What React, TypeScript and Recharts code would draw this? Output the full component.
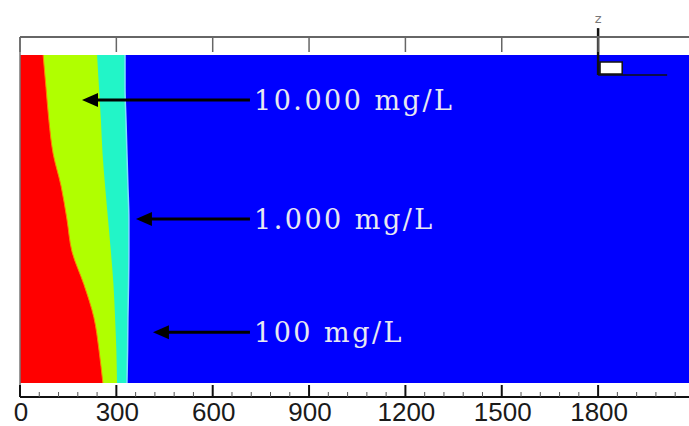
import React from 'react';
import { ComposedChart, Area, XAxis, YAxis, ReferenceLine, ReferenceArea } from 'recharts';

// depth (normalised, 0 = top of the domain, 100 = bottom)
const depths = [0, 10, 20, 30, 40, 50, 60, 70, 80, 90, 100];
// horizontal distance (m) of the contour boundaries at each depth
const redEdge = [72, 81, 90, 103, 128, 146, 162, 199, 230, 246, 258];
const greenEdge = [240, 246, 252, 257, 265, 274, 283, 291, 296, 300, 302];
const cyanEdge = [327, 327, 330, 333, 336, 339, 339, 338, 336, 335, 333];
const X_MAX = 2083;

const labelTicks = [0, 300, 600, 900, 1200, 1500, 1800];
const bottomTicks = [
  0, 60, 120, 180, 240, 300, 360, 420, 480, 540, 600, 660, 720, 780, 840, 900,
  960, 1020, 1080, 1140, 1200, 1260, 1320, 1380, 1440, 1500, 1560, 1620, 1680,
  1740, 1800, 1860, 1920, 1980, 2040,
];

const arrowLabels = ['10.000 mg/L', '1.000 mg/L', '100 mg/L'];
const arrowTips = [193, 361, 414];
const arrowTail = 716;
const arrowDepths = [13.7, 50.0, 84.5];

// z-axis triad glyph (top right)
const triadX = 1800;
const triadTop = -8.2;
const triadBottom = 6.1;
const triadRight = 2015;
const triadBox = { x1: 1806, x2: 1875, y1: 2.1, y2: 5.8 };

const data = depths.map((d, i) => ({
  depth: d,
  blue: X_MAX,
  cyan: cyanEdge[i],
  green: greenEdge[i],
  red: redEdge[i],
}));

const BottomTick = (props: any) => {
  const { x, y, payload } = props;
  const v = payload.value;
  const major = v % 300 === 0;
  return (
    <g>
      <line
        x1={x}
        x2={x}
        y1={y}
        y2={y - (major ? 12 : 5)}
        stroke={major ? '#111' : '#555'}
        strokeWidth={major ? 2 : 1}
      />
      {major && labelTicks.includes(v) && (
        <text
          x={x + 1}
          y={y + 24}
          textAnchor="middle"
          fontFamily="'Liberation Sans', Arial, sans-serif"
          fontSize={26}
          fill="#1a1a1a"
        >
          {v}
        </text>
      )}
    </g>
  );
};

const TopTick = (props: any) => {
  const { x, y } = props;
  return <line x1={x} x2={x} y1={y} y2={y + 15} stroke="#666" strokeWidth={1.5} />;
};

const makeArrow = (label: string) => (p: any) => {
  const { x1, y1, x2, y2 } = p;
  const head = 16;
  const half = 7;
  return (
    <g>
      <line x1={x1} y1={y1} x2={x2 + head - 1} y2={y2} stroke="#000" strokeWidth={3} />
      <polygon
        points={`${x2},${y2} ${x2 + head},${y2 - half} ${x2 + head},${y2 + half}`}
        fill="#000"
      />
      <text
        x={x1 + 4}
        y={y1 + 10}
        fontFamily="'DejaVu Serif', serif"
        fontSize={27}
        letterSpacing={2.5}
        fill="#e8e8f2"
      >
        {label}
      </text>
    </g>
  );
};

const TriadVertical = (p: any) => {
  const { x1, y1, x2, y2 } = p;
  const top = Math.min(y1, y2);
  return (
    <g>
      <line x1={x1} y1={y1} x2={x2} y2={y2} stroke="#111" strokeWidth={2.5} />
      <text
        x={x1}
        y={top - 5}
        textAnchor="middle"
        fontFamily="'DejaVu Sans', sans-serif"
        fontSize={13}
        fill="#777"
      >
        z
      </text>
    </g>
  );
};

export default function App() {
  return (
    <div style={{ position: 'absolute', left: 0, top: 0, width: 689, height: 426, background: '#fff' }}>
      <ComposedChart
        width={689}
        height={426}
        data={data}
        layout="vertical"
        margin={{ top: 0, right: 0, bottom: 0, left: 0 }}
      >
        <XAxis
          xAxisId={0}
          type="number"
          orientation="bottom"
          domain={[0, X_MAX]}
          allowDataOverflow
          ticks={bottomTicks}
          interval={0}
          tickSize={0}
          tickMargin={0}
          tickLine={false}
          tick={<BottomTick />}
          height={29}
          axisLine={{ stroke: '#111', strokeWidth: 2 }}
        />
        <XAxis
          xAxisId="top"
          type="number"
          orientation="top"
          domain={[0, X_MAX]}
          allowDataOverflow
          ticks={labelTicks}
          interval={0}
          tickSize={0}
          tickMargin={0}
          tickLine={false}
          tick={<TopTick />}
          height={37}
          axisLine={{ stroke: '#666', strokeWidth: 2 }}
        />
        <YAxis
          type="number"
          dataKey="depth"
          domain={[-5.49, 104.27]}
          allowDataOverflow
          width={20}
          tick={false}
          tickLine={false}
          axisLine={{ stroke: '#777', strokeWidth: 1.5 }}
        />
        <Area
          dataKey="blue"
          type="monotone"
          fill="#0000ff"
          fillOpacity={1}
          stroke="none"
          isAnimationActive={false}
        />
        <Area
          dataKey="cyan"
          type="monotone"
          fill="#22f5c8"
          fillOpacity={1}
          stroke="#7fdcff"
          strokeWidth={1.5}
          isAnimationActive={false}
        />
        <Area
          dataKey="green"
          type="monotone"
          fill="#b0ff00"
          fillOpacity={1}
          stroke="none"
          isAnimationActive={false}
        />
        <Area
          dataKey="red"
          type="monotone"
          fill="#ff0000"
          fillOpacity={1}
          stroke="#ff8000"
          strokeWidth={1}
          isAnimationActive={false}
        />
        {arrowLabels.map((label, i) => (
          <ReferenceLine
            key={label}
            segment={[
              { x: arrowTail, y: arrowDepths[i] },
              { x: arrowTips[i], y: arrowDepths[i] },
            ]}
            shape={makeArrow(label)}
          />
        ))}
        <ReferenceLine
          segment={[
            { x: triadX, y: triadTop },
            { x: triadX, y: triadBottom },
          ]}
          ifOverflow="visible"
          shape={TriadVertical}
        />
        <ReferenceLine
          segment={[
            { x: triadX, y: triadBottom },
            { x: triadRight, y: triadBottom },
          ]}
          ifOverflow="visible"
          stroke="#111"
          strokeWidth={1.5}
        />
        <ReferenceArea
          x1={triadBox.x1}
          x2={triadBox.x2}
          y1={triadBox.y1}
          y2={triadBox.y2}
          ifOverflow="visible"
          fill="#ffffff"
          fillOpacity={1}
          stroke="#111"
          strokeWidth={1.5}
        />
      </ComposedChart>
    </div>
  );
}
